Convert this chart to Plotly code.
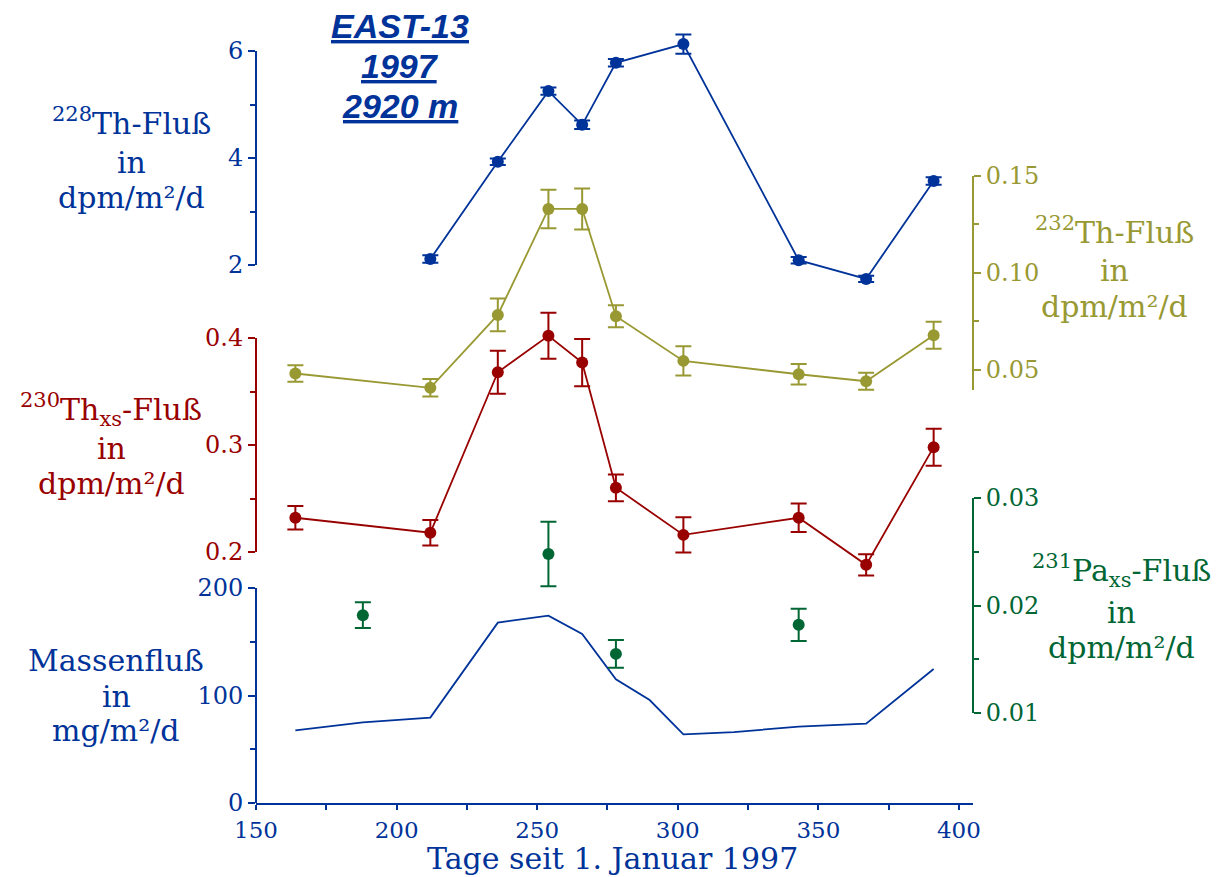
import plotly.graph_objects as go

# ---------------- data ----------------
th_days = [164, 212, 236, 254, 266, 278, 302, 343, 367, 391]
th228_days = [212, 236, 254, 266, 278, 302, 343, 367, 391]
th228 = [2.11, 3.93, 5.25, 4.62, 5.78, 6.13, 2.09, 1.74, 3.57]
th228_err = [0.07, 0.06, 0.07, 0.08, 0.07, 0.18, 0.06, 0.06, 0.07]
th232 = [0.0482, 0.0408, 0.0784, 0.133, 0.133, 0.0777, 0.0547, 0.0478, 0.0442, 0.0679]
th232_err = [0.0043, 0.0045, 0.0084, 0.0099, 0.0106, 0.0057, 0.0075, 0.0053, 0.0044, 0.0070]
th230 = [0.232, 0.218, 0.368, 0.402, 0.377, 0.260, 0.216, 0.232, 0.188, 0.298]
th230_err = [0.011, 0.012, 0.020, 0.0215, 0.022, 0.0125, 0.0165, 0.0134, 0.010, 0.0173]
pa_days = [188, 254, 278, 343]
pa231 = [0.0191, 0.0248, 0.0155, 0.0182]
pa231_err = [0.0012, 0.0030, 0.0013, 0.0015]
mass_days = [164, 188, 212, 236, 254, 266, 278, 290, 302, 320, 343, 367, 391]
mass = [67.6, 75, 79.4, 167.8, 174.3, 157.2, 115.0, 95.8, 63.9, 66, 71, 73.8, 124.7]

x_ticks = [150, 200, 250, 300, 350, 400]
x_minor = [175, 225, 275, 325, 375]

BLUE = '#003399'
OLIVE = '#999933'
RED = '#990000'
GREEN = '#006633'
SERIF = 'DejaVu Serif'

W, H = 1227, 877
ML, MT = 256, 20
PW, PH = 717, 783
MR = W - ML - PW
MB = H - MT - PH


def px(xpix):
    return (xpix - ML) / PW


def py(ypix):
    return (MT + PH - ypix) / PH


fig = go.Figure()

err_common = dict(type='data', visible=True, thickness=2, width=8)

fig.add_trace(go.Scatter(x=mass_days, y=mass, mode='lines', yaxis='y',
                         line=dict(color=BLUE, width=1.8), showlegend=False))
fig.add_trace(go.Scatter(x=th228_days, y=th228, mode='lines+markers', yaxis='y3',
                         line=dict(color=BLUE, width=1.8), marker=dict(size=12, color=BLUE),
                         error_y=dict(array=th228_err, color=BLUE, **err_common), showlegend=False))
fig.add_trace(go.Scatter(x=th_days, y=th232, mode='lines+markers', yaxis='y4',
                         line=dict(color=OLIVE, width=1.8), marker=dict(size=12, color=OLIVE),
                         error_y=dict(array=th232_err, color=OLIVE, **err_common), showlegend=False))
fig.add_trace(go.Scatter(x=th_days, y=th230, mode='lines+markers', yaxis='y2',
                         line=dict(color=RED, width=1.8), marker=dict(size=12, color=RED),
                         error_y=dict(array=th230_err, color=RED, **err_common), showlegend=False))
fig.add_trace(go.Scatter(x=pa_days, y=pa231, mode='markers', yaxis='y5',
                         marker=dict(size=12, color=GREEN),
                         error_y=dict(array=pa231_err, color=GREEN, **err_common), showlegend=False))

TICKSIZE = 24


def yax(rng, tickvals, ticktext, minorvals, color, side='left', overlay=True):
    d = dict(range=rng, tickmode='array', tickvals=tickvals, ticktext=ticktext,
             ticks='outside', ticklen=7, tickwidth=2, tickcolor=color,
             tickfont=dict(family=SERIF, size=TICKSIZE, color=color),
             showline=False, showgrid=False, zeroline=False, anchor='x', side=side,
             minor=dict(tickmode='array', tickvals=minorvals, ticks='outside', ticklen=5,
                        tickwidth=2, tickcolor=color, showgrid=False),
             fixedrange=True)
    if overlay:
        d['overlaying'] = 'y'
    return d


fig.update_layout(
    width=W, height=H,
    margin=dict(l=ML, r=MR, t=MT, b=MB),
    paper_bgcolor='white', plot_bgcolor='white',
    showlegend=False,
    xaxis=dict(range=[150, 405], domain=[0, 1], anchor='y', tickmode='array', tickvals=x_ticks,
               ticks='outside', ticklen=5, tickwidth=2, tickcolor=BLUE,
               tickfont=dict(family=SERIF, size=23, color=BLUE),
               showline=True, linecolor=BLUE, linewidth=2, showgrid=False, zeroline=False,
               minor=dict(tickmode='array', tickvals=x_minor, ticks='outside', ticklen=5,
                          tickwidth=2, tickcolor=BLUE, showgrid=False),
               fixedrange=True),
    yaxis=yax([0, 728.37], [0, 100, 200], ['0', '100', '200'], [50, 150], BLUE, overlay=False),
    yaxis2=yax([-0.03458, 0.69720], [0.2, 0.3, 0.4], ['0.2', '0.3', '0.4'], [0.25, 0.35], RED),
    yaxis3=yax([-8.0561, 6.5794], [2, 4, 6], ['2', '4', '6'], [3, 5], BLUE),
    yaxis4=yax([-0.17320, 0.23041], [0.05, 0.10, 0.15], ['0.05', '0.10', '0.15'], [0.075, 0.125], OLIVE, side='right'),
    yaxis5=yax([0.001628, 0.074465], [0.01, 0.02, 0.03], ['0.01', '0.02', '0.03'], [0.015, 0.025], GREEN, side='right'),
)

shapes = [
    dict(type='line', xref='paper', yref='y', x0=0, x1=0, y0=0, y1=200, line=dict(color=BLUE, width=2)),
    dict(type='line', xref='paper', yref='y2', x0=0, x1=0, y0=0.2, y1=0.4, line=dict(color=RED, width=2)),
    dict(type='line', xref='paper', yref='y3', x0=0, x1=0, y0=2, y1=6, line=dict(color=BLUE, width=2)),
    dict(type='line', xref='paper', yref='y4', x0=1, x1=1, y0=0.0397, y1=0.15, line=dict(color=OLIVE, width=2)),
    dict(type='line', xref='paper', yref='y5', x0=1, x1=1, y0=0.01, y1=0.03, line=dict(color=GREEN, width=2)),
]
fig.update_layout(shapes=shapes)

LAB = 30
ann = []


def block(lines, xc, centers, color, size=LAB, family=SERIF):
    for t, yc in zip(lines, centers):
        ann.append(dict(text=t, x=px(xc), y=py(yc), font=dict(family=family, size=size, color=color)))


block(['<b><i><u>EAST-13</u></i></b>', '<b><i><u>1997</u></i></b>', '<b><i><u>2920 m</u></i></b>'],
      400, [26, 66, 106], BLUE, size=34, family='Liberation Sans')
block(['<sup>228</sup>Th-Fluß', 'in', 'dpm/m²/d'], 131, [122, 163, 197], BLUE)
block(['<sup>230</sup>Th<sub>xs</sub>-Fluß', 'in', 'dpm/m²/d'], 111, [409, 449, 483], RED)
block(['Massenfluß', 'in', 'mg/m²/d'], 116, [660, 696, 730], BLUE)
block(['<sup>232</sup>Th-Fluß', 'in', 'dpm/m²/d'], 1114, [231, 270, 306], OLIVE)
block(['<sup>231</sup>Pa<sub>xs</sub>-Fluß', 'in', 'dpm/m²/d'], 1121, [570, 612, 647], GREEN)
block(['Tage seit 1. Januar 1997'], 612, [858], BLUE, size=30)

for a in ann:
    a.update(xref='paper', yref='paper', showarrow=False, xanchor='center', yanchor='middle', align='center')
fig.update_layout(annotations=ann)

fig.write_html('out.html', config={'displayModeBar': False},
               post_script="document.body.style.margin='0';document.body.style.overflow='hidden';")
